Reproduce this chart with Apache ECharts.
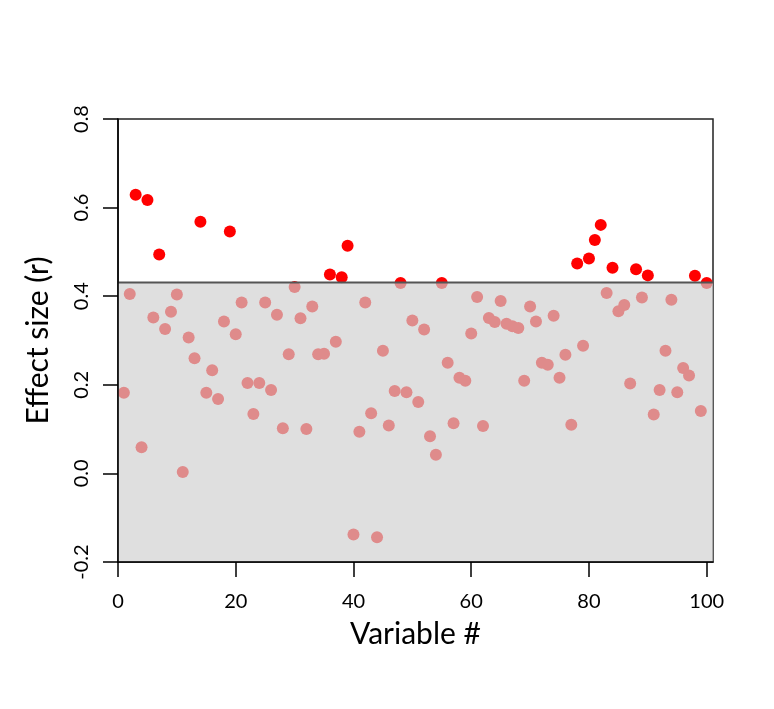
<!DOCTYPE html>
<html>
<head>
<meta charset="utf-8">
<title>Effect size by variable</title>
<script src="https://cdn.jsdelivr.net/npm/echarts@6/dist/echarts.min.js"></script>
<style>
  html, body { margin: 0; padding: 0; background: #fff; }
  #main { width: 774px; height: 709px; }
</style>
</head>
<body>
<div id="main"></div>
<script>
// variable index 1..100 and the effect size
var variables = [];
for (var i = 1; i <= 100; i++) variables.push(i);

var effects = [
  0.182, 0.405, 0.629, 0.059, 0.617, 0.352, 0.494, 0.326, 0.365, 0.404,
  0.003, 0.307, 0.260, 0.568, 0.182, 0.233, 0.168, 0.343, 0.546, 0.314,
  0.386, 0.204, 0.134, 0.204, 0.386, 0.188, 0.358, 0.102, 0.269, 0.421,
  0.350, 0.100, 0.377, 0.269, 0.270, 0.449, 0.297, 0.443, 0.514, -0.138,
  0.094, 0.386, 0.136, -0.144, 0.277, 0.108, 0.186, 0.430, 0.183, 0.345,
  0.161, 0.325, 0.084, 0.042, 0.430, 0.250, 0.113, 0.216, 0.209, 0.316,
  0.398, 0.107, 0.351, 0.342, 0.389, 0.338, 0.332, 0.328, 0.209, 0.377,
  0.343, 0.250, 0.245, 0.356, 0.216, 0.268, 0.110, 0.474, 0.288, 0.485,
  0.527, 0.561, 0.407, 0.464, 0.366, 0.380, 0.203, 0.461, 0.397, 0.447,
  0.133, 0.188, 0.277, 0.392, 0.183, 0.238, 0.221, 0.446, 0.141, 0.430
];

var threshold = 0.431;
var xTicks = [0, 20, 40, 60, 80, 100];
var xRange = [0, 101.07];
var yRange = [-0.2, 0.8];

var points = variables.map(function (v, i) { return [v, effects[i]]; });

var font = 'Lato';
var myChart = echarts.init(document.getElementById('main'));

var option = {
  animation: false,
  grid: {
    left: 118, top: 119, right: 61, bottom: 147,
    show: true, borderColor: '#222', borderWidth: 1.5, backgroundColor: 'transparent'
  },
  xAxis: {
    type: 'value',
    min: xRange[0], max: xRange[1],
    z: 10,
    name: 'Variable #',
    nameLocation: 'middle',
    nameGap: 57,
    nameTextStyle: { fontFamily: font, fontSize: 30, color: '#000' },
    splitLine: { show: false },
    axisLine: { show: true, onZero: false, lineStyle: { color: '#000', width: 1.5 } },
    axisTick: { show: true, inside: false, length: 15, customValues: xTicks, lineStyle: { color: '#000', width: 1.5 } },
    axisLabel: { customValues: xTicks, margin: 30, fontFamily: font, fontSize: 20, color: '#000' }
  },
  yAxis: {
    type: 'value',
    min: yRange[0], max: yRange[1], interval: 0.2,
    z: 10,
    name: 'Effect size (r)',
    nameLocation: 'middle',
    nameGap: 65,
    nameTextStyle: { fontFamily: font, fontSize: 30, color: '#000' },
    splitLine: { show: false },
    axisLine: { show: true, lineStyle: { color: '#000', width: 1.5 } },
    axisTick: { show: true, inside: false, length: 15, lineStyle: { color: '#000', width: 1.5 } },
    axisLabel: {
      rotate: 90, margin: 26, fontFamily: font, fontSize: 20, color: '#000',
      formatter: function (v) { return v.toFixed(1); }
    }
  },
  series: [
    {
      type: 'scatter',
      data: points,
      symbol: 'circle',
      symbolSize: 12,
      itemStyle: { color: '#ff0000', opacity: 1 },
      z: 2
    },
    {
      // translucent grey band below the threshold, drawn over the points
      type: 'custom',
      z: 5,
      silent: true,
      data: [[xRange[0], yRange[0], xRange[1], threshold]],
      renderItem: function (params, api) {
        var p0 = api.coord([api.value(0), api.value(1)]);
        var p1 = api.coord([api.value(2), api.value(3)]);
        return {
          type: 'group',
          children: [
            {
              type: 'rect',
              shape: { x: p0[0], y: p1[1], width: p1[0] - p0[0], height: p0[1] - p1[1] },
              style: { fill: 'rgba(208,208,208,0.67)' }
            },
            {
              type: 'line',
              shape: { x1: p0[0], y1: p1[1], x2: p1[0], y2: p1[1] },
              style: { stroke: '#555', lineWidth: 2 }
            }
          ]
        };
      }
    }
  ]
};

myChart.setOption(option);
</script>
</body>
</html>
